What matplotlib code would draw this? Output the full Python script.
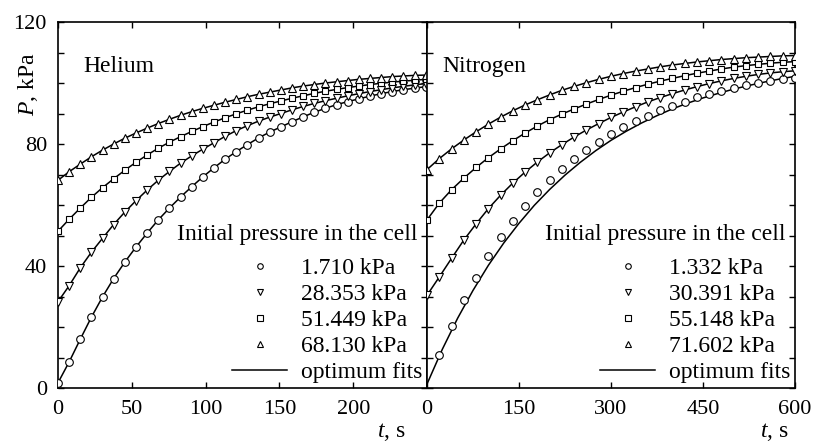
import matplotlib
matplotlib.use("Agg")
import matplotlib.pyplot as plt
from matplotlib.lines import Line2D

plt.rcParams['font.family'] = ['Liberation Serif', 'DejaVu Serif']
plt.rcParams['mathtext.fontset'] = 'custom'
plt.rcParams['mathtext.rm'] = 'Liberation Serif'
plt.rcParams['mathtext.it'] = 'Liberation Serif:italic'

# ---- helium, time in s (one reading every ~7.55 s)
he_t = [0, 7.5, 15.1, 22.6, 30.2, 37.7, 45.3, 52.8, 60.4, 67.9, 75.5, 83.0, 90.6, 98.1,
        105.7, 113.2, 120.8, 128.3, 135.9, 143.4, 151.0, 158.5, 166.1, 173.6, 181.2,
        188.7, 196.3, 203.8, 211.4, 218.9, 226.5, 234.0, 241.6, 249.1]
he_p1 = [1.7, 8.5, 16.0, 23.2, 29.9, 35.9, 41.3, 46.2, 50.8, 55.1, 59.0, 62.6, 66.0, 69.2,
         72.2, 75.0, 77.5, 79.8, 82.0, 83.9, 85.6, 87.3, 88.9, 90.4, 91.7, 92.9, 93.9,
         94.8, 95.7, 96.5, 97.2, 97.8, 98.3, 98.8]
he_p2 = [28.3, 33.5, 39.4, 44.5, 49.1, 53.6, 57.7, 61.4, 64.9, 68.1, 71.0, 73.7, 76.1, 78.3,
         80.4, 82.5, 84.4, 86.0, 87.5, 88.8, 90.0, 91.2, 92.3, 93.3, 94.2, 95.0, 95.8,
         96.5, 97.2, 97.8, 98.4, 98.9, 99.4, 99.8]
he_p3 = [51.4, 55.3, 59.0, 62.5, 65.7, 68.6, 71.4, 74.0, 76.4, 78.6, 80.6, 82.4, 84.1, 85.7,
         87.2, 88.6, 89.9, 91.1, 92.2, 93.2, 94.1, 95.0, 95.8, 96.6, 97.3, 97.9, 98.5,
         99.0, 99.5, 99.9, 100.3, 100.6, 100.9, 101.2]
he_p4 = [68.1, 70.9, 73.4, 75.8, 78.0, 80.0, 81.9, 83.6, 85.2, 86.7, 88.1, 89.4, 90.6, 91.7,
         92.7, 93.7, 94.6, 95.5, 96.3, 97.0, 97.7, 98.4, 99.0, 99.5, 100.0, 100.4, 100.8,
         101.2, 101.5, 101.8, 102.1, 102.3, 102.5, 102.6]
he_labels = ['1.710 kPa', '28.353 kPa', '51.449 kPa', '68.130 kPa']

# ---- nitrogen, one reading every 20 s
n2_t = [0, 20, 40, 60, 80, 100, 120, 140, 160, 180, 200, 220, 240, 260, 280, 300, 320,
        340, 360, 380, 400, 420, 440, 460, 480, 500, 520, 540, 560, 580, 600]
n2_p1 = [None, 10.8, 20.3, 28.9, 36.0, 43.2, 49.4, 54.9, 59.8, 64.3, 68.2, 71.8, 75.1, 78.1,
         80.8, 83.3, 85.5, 87.5, 89.3, 91.0, 92.5, 93.9, 95.3, 96.5, 97.5, 98.4, 99.2,
         100.0, 100.7, 101.3, 101.8]
n2_p2 = [30.4, 36.4, 42.5, 48.5, 53.8, 58.8, 63.2, 67.2, 70.8, 74.1, 77.1, 79.8, 82.3, 84.6,
         86.7, 88.7, 90.5, 92.2, 93.8, 95.2, 96.5, 97.7, 98.8, 99.8, 100.7, 101.5, 102.2,
         102.8, 103.3, 103.7, 104.0]
n2_p3 = [55.1, 60.6, 65.0, 68.8, 72.3, 75.5, 78.4, 81.1, 83.6, 85.9, 88.0, 89.8, 91.5, 93.1,
         94.6, 96.0, 97.3, 98.5, 99.6, 100.6, 101.5, 102.4, 103.2, 103.9, 104.6, 105.2,
         105.7, 106.1, 106.5, 106.8, 107.0]
n2_p4 = [71.6, 75.2, 78.4, 81.3, 84.0, 86.5, 88.8, 90.9, 92.8, 94.5, 96.1, 97.6, 98.9, 100.1,
         101.2, 102.2, 103.1, 103.9, 104.6, 105.3, 105.9, 106.4, 106.9, 107.3, 107.7,
         108.0, 108.3, 108.5, 108.7, 108.9, 109.0]
# fit for the lowest nitrogen run lies below its points
n2_fit1_t = [0, 25, 50, 75, 100, 125, 150, 175, 200, 225, 250, 275, 300, 325, 350, 375,
             400, 425, 450, 475, 500, 525, 550, 575, 600]
n2_fit1_p = [1.3, 12.7, 22.9, 32.0, 40.2, 47.5, 54.0, 59.9, 65.1, 69.8, 74.0, 77.8, 81.2,
             84.2, 86.9, 89.3, 91.5, 93.4, 95.1, 96.6, 98.0, 99.2, 100.3, 101.3, 102.2]
n2_labels = ['1.332 kPa', '30.391 kPa', '55.148 kPa', '71.602 kPa']

markers = ['o', 'v', 's', '^']
msizes = [5.5, 5.5, 4.8, 5.5]

fig = plt.figure(figsize=(8.13, 4.45), dpi=100)
ax1 = fig.add_axes([58/813, 57/445, 369/813, 366/445])
ax2 = fig.add_axes([427/813, 57/445, 368/813, 366/445])

# helium: fits run through the points
for p, m, s in zip([he_p1, he_p2, he_p3, he_p4], markers, msizes):
    ax1.plot(he_t, p, color='k', lw=1.1, zorder=2)
    ax1.plot(he_t, p, ls='none', marker=m, ms=s, mfc='white', mec='k', mew=0.8, zorder=3)

# nitrogen
ax2.plot(n2_fit1_t, n2_fit1_p, color='k', lw=1.1, zorder=2)
ax2.plot(n2_t[1:], n2_p1[1:], ls='none', marker='o', ms=5.5, mfc='white', mec='k',
         mew=0.8, zorder=3)
for p, m, s in zip([n2_p2, n2_p3, n2_p4], markers[1:], msizes[1:]):
    ax2.plot(n2_t, p, color='k', lw=1.1, zorder=2)
    ax2.plot(n2_t, p, ls='none', marker=m, ms=s, mfc='white', mec='k', mew=0.8, zorder=3)

ax1.set_xlim(0, 250)
ax2.set_xlim(0, 600)
for ax in (ax1, ax2):
    ax.set_ylim(0, 120)
    ax.set_yticks(range(0, 121, 10))
    ax.tick_params(direction='in', top=True, right=True, length=4, width=1,
                   labelsize=16)
    ax.tick_params(axis='x', pad=9)
    ax.tick_params(axis='y', pad=8)
    for sp in ax.spines.values():
        sp.set_linewidth(1.2)

ax1.set_yticklabels(['0', '', '', '', '40', '', '', '', '80', '', '', '', '120'])
ax2.set_yticklabels([])
ax1.set_xticks([0, 50, 100, 150, 200, 250])
ax1.set_xticklabels(['0', '50', '100', '150', '200', ''])
ax2.set_xticks([0, 150, 300, 450, 600])

ax1.text(0.068, 0.863, 'Helium', transform=ax1.transAxes, fontsize=17, va='baseline')
ax2.text(0.043, 0.863, 'Nitrogen', transform=ax2.transAxes, fontsize=17, va='baseline')

for ax, labels in ((ax1, he_labels), (ax2, n2_labels)):
    ax.text(0.973, 0.404, 'Initial pressure in the cell', transform=ax.transAxes,
            fontsize=17, ha='right', va='baseline')
    handles = [Line2D([], [], ls='none', marker=m, ms=4, mfc='white', mec='k', mew=0.8)
               for m in markers]
    handles.append(Line2D([], [], color='k', lw=1.1))
    ax.legend(handles, labels + ['optimum fits'], loc='lower right', frameon=False,
              fontsize=17, borderpad=0, borderaxespad=0.2, labelspacing=0.19,
              handlelength=2.3, handletextpad=0.6)

fig.text(28/813, 1 - 84/445, '$P$, kPa', rotation=90, fontsize=17, ha='center',
         va='center')
fig.text(391/813, 1 - 437/445, '$t$, s', fontsize=17, ha='center', va='baseline')
fig.text(774/813, 1 - 437/445, '$t$, s', fontsize=17, ha='center', va='baseline')

fig.savefig('out.png', dpi=100)
